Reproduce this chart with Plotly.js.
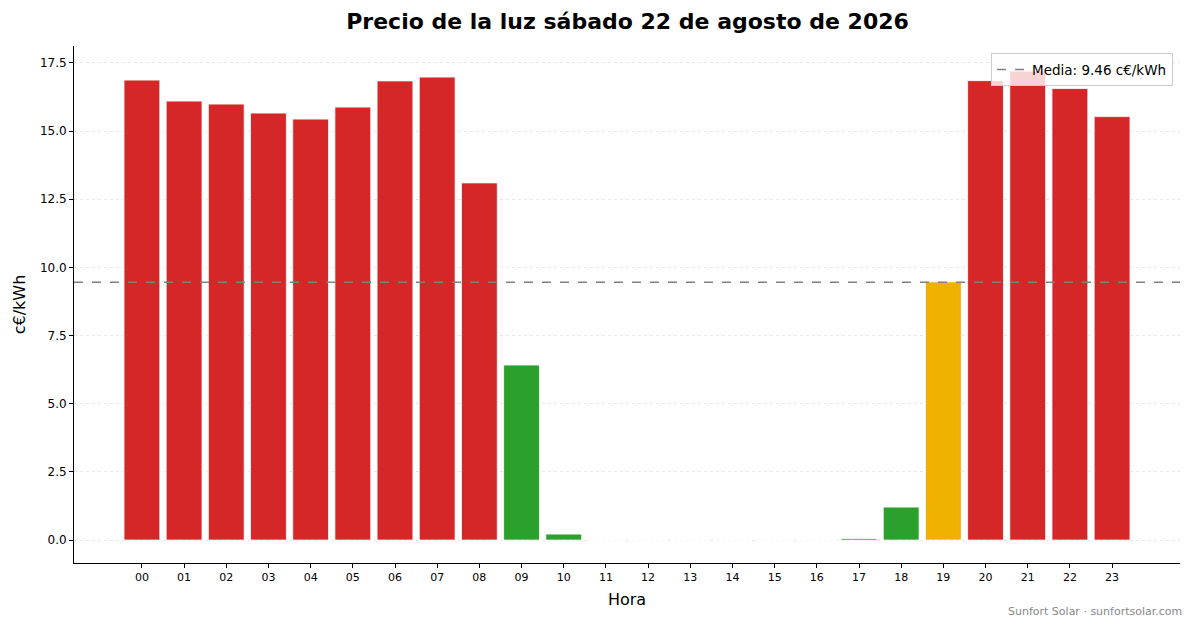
<!DOCTYPE html>
<html>
<head>
<meta charset="utf-8">
<script src="https://cdn.plot.ly/plotly-3.0.1.min.js"></script>
<style>
  html, body { margin: 0; padding: 0; background: #fff; }
  #chart { width: 1193px; height: 628px; }
</style>
</head>
<body>
<div id="chart"></div>
<script>
// precio por hora, c€/kWh
var horas = ["00", "01", "02", "03", "04", "05", "06", "07", "08", "09", "10", "11",
             "12", "13", "14", "15", "16", "17", "18", "19", "20", "21", "22", "23"];
var precios = [16.87, 16.10, 15.99, 15.66, 15.44, 15.88, 16.84, 16.98, 13.10, 6.42, 0.22, 0,
               0, 0, 0, 0, 0, 0.06, 1.21, 9.47, 16.85, 17.20, 16.56, 15.53];
var media = 9.46;
var titulo = "Precio de la luz sábado 22 de agosto de 2026";

function colorPrecio(p) {
    if (p < 7) return "#2ca02c";
    if (p < 12) return "#f0b000";
    return "#d62728";
}

var colores = [];
for (i = 0; i < precios.length; i++) {
    colores.push(colorPrecio(precios[i]));
}

var trace = {
    type: "bar",
    x: horas,
    y: precios,
    width: 0.85,
    marker: {
        color: colores,
        line: {color: "#ffffff", width: 0.8}
    },
    showlegend: false,
    hoverinfo: "x+y"
};

var font = "DejaVu Sans, Liberation Sans, sans-serif";

var layout = {
    width: 1193,
    height: 628,
    margin: {l: 74, r: 13, t: 46, b: 65},
    paper_bgcolor: "#ffffff",
    plot_bgcolor: "#ffffff",
    font: {family: font, color: "#000000", size: 11},
    title: {
        text: "<b>" + titulo + "</b>",
        font: {family: font, size: 22, color: "#000000"},
        x: 0.526,
        xanchor: "center",
        y: 0.966,
        yanchor: "middle"
    },
    xaxis: {
        type: "category",
        range: [-1.61, 24.61],
        title: {text: "Hora", font: {size: 16}, standoff: 10},
        showgrid: false,
        showline: true,
        linecolor: "#000000",
        linewidth: 1,
        ticks: "outside",
        ticklen: 4,
        tickcolor: "#000000",
        tickfont: {size: 11},
        zeroline: false
    },
    yaxis: {
        range: [-0.84, 18.12],
        dtick: 2.5,
        tick0: 0,
        tickformat: ".1f",
        title: {text: "c€/kWh", font: {size: 16}, standoff: 10},
        showgrid: true,
        gridcolor: "#e0e0e0",
        griddash: "dot",
        gridwidth: 0.8,
        showline: true,
        linecolor: "#000000",
        linewidth: 1,
        ticks: "outside",
        ticklen: 4,
        tickcolor: "#000000",
        tickfont: {size: 12},
        zeroline: false
    },
    shapes: [{
        type: "line",
        xref: "paper",
        x0: 0,
        x1: 1,
        yref: "y",
        y0: media,
        y1: media,
        line: {color: "#808080", width: 1.5, dash: "dash"},
        showlegend: true,
        name: "Media: " + media.toFixed(2) + " c€/kWh"
    }],
    showlegend: true,
    legend: {
        x: 0.9937,
        xanchor: "right",
        y: 0.986,
        yanchor: "top",
        bgcolor: "rgba(255,255,255,0.8)",
        bordercolor: "#cccccc",
        borderwidth: 1,
        font: {size: 13.5},
        itemwidth: 30
    },
    annotations: [{
        text: "Sunfort Solar · sunfortsolar.com",
        xref: "paper",
        yref: "paper",
        x: 1.004,
        y: -0.094,
        xanchor: "right",
        yanchor: "middle",
        showarrow: false,
        font: {size: 11, color: "#888888"}
    }],
    bargap: 0.15
};

Plotly.newPlot("chart", [trace], layout, {displayModeBar: false, staticPlot: true});
</script>
</body>
</html>
